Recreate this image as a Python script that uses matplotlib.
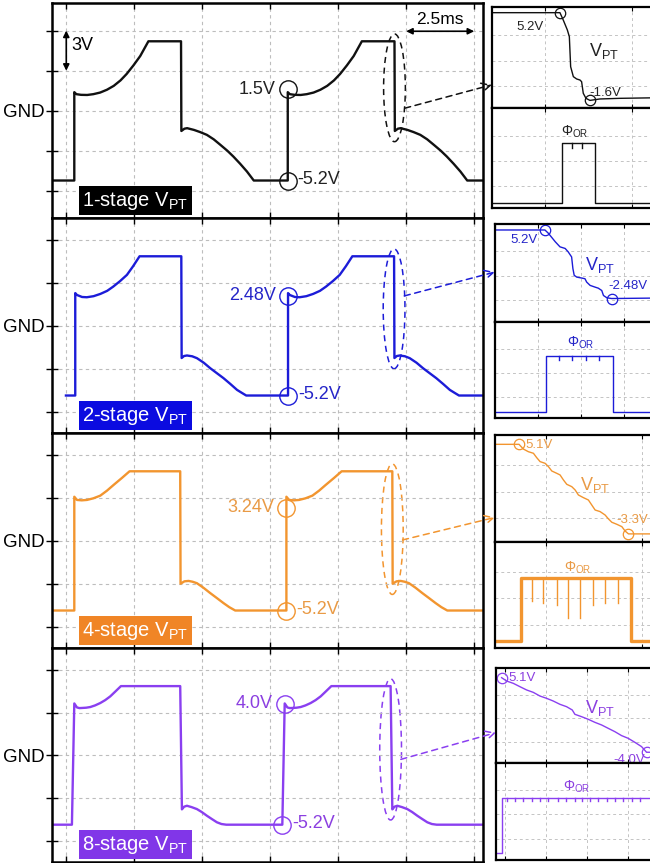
import numpy as np
import matplotlib
matplotlib.use('Agg')
import matplotlib.pyplot as plt
from matplotlib.patches import Ellipse, ConnectionPatch

plt.rcParams['font.family'] = ['Liberation Sans', 'DejaVu Sans']
plt.rcParams['mathtext.fontset'] = 'custom'
plt.rcParams['mathtext.rm'] = 'Liberation Sans'
plt.rcParams['mathtext.it'] = 'Liberation Sans:italic'
plt.rcParams['mathtext.bf'] = 'Liberation Sans:bold'

# ---------------- left column: V_PT over two cycles ----------------
# x in scope divisions (1 div = 2.5 ms), y in volts
stage_names = ['1-stage', '2-stage', '4-stage', '8-stage']
low_level = -5.2

# one cycle, time measured from the rising edge
cycle_t_1 = [0.0, 0.0, 0.03, 0.1, 0.19, 0.28, 0.38, 0.48, 0.58, 0.68, 0.77, 0.87, 0.97, 1.03, 1.09,
             1.57, 1.575, 1.62, 1.66, 1.76, 1.85, 1.95, 2.05, 2.15, 2.25, 2.34, 2.44, 2.54, 2.64]
cycle_v_1 = [-5.2, 1.4, 1.25, 1.2, 1.19, 1.25, 1.37, 1.58, 1.87, 2.28, 2.76, 3.4, 4.10, 4.65, 5.2,
             5.2, -1.5, -1.33, -1.29, -1.42, -1.58, -1.79, -2.12, -2.54, -2.97, -3.41, -3.95, -4.53, -5.2]
cycle_t_2 = [0.0, 0.0, 0.025, 0.1, 0.17, 0.27, 0.37, 0.47, 0.56, 0.66, 0.76, 0.85, 0.946,
             1.56, 1.565, 1.6, 1.643, 1.72, 1.79, 1.89, 1.986, 2.08, 2.18, 2.28, 2.38, 2.45, 2.515]
cycle_v_2 = [-5.2, 2.45, 2.31, 2.16, 2.14, 2.22, 2.39, 2.62, 2.94, 3.35, 3.81, 4.45, 5.2,
             5.2, -2.4, -2.25, -2.21, -2.27, -2.41, -2.75, -3.16, -3.52, -3.9, -4.33, -4.78, -5.0, -5.2]
cycle_t_3 = [0.0, 0.0, 0.039, 0.11, 0.186, 0.28, 0.382, 0.48, 0.578, 0.7, 0.813,
             1.558, 1.563, 1.62, 1.681, 1.74, 1.804, 1.9, 2.0, 2.1, 2.196, 2.28, 2.367]
cycle_v_3 = [-5.2, 3.3, 3.06, 3.03, 3.06, 3.18, 3.38, 3.75, 4.18, 4.7, 5.2,
             5.2, -3.2, -3.02, -2.99, -3.05, -3.16, -3.5, -3.9, -4.28, -4.65, -4.95, -5.2]
cycle_t_4 = [0.0, 0.035, 0.074, 0.11, 0.147, 0.21, 0.27, 0.34, 0.417, 0.49, 0.564, 0.64, 0.721,
             1.593, 1.618, 1.65, 1.692, 1.76, 1.839, 1.91, 1.986, 2.06, 2.133, 2.2, 2.27]
cycle_v_4 = [-5.2, 3.9, 3.6, 3.55, 3.56, 3.58, 3.63, 3.75, 3.93, 4.15, 4.43, 4.8, 5.2,
             5.2, -4.05, -3.85, -3.78, -3.88, -4.03, -4.25, -4.53, -4.78, -5.02, -5.15, -5.2]
cycle_t = [cycle_t_1, cycle_t_2, cycle_t_3, cycle_t_4]
cycle_v = [cycle_v_1, cycle_v_2, cycle_v_3, cycle_v_4]

first_rise = [0.118, 0.132, 0.118, 0.083]
period = [3.14, 3.13, 3.12, 3.095]
trace_start = [-0.21, -0.005, -0.21, -0.21]

step_labels = ['1.5V', '2.48V', '3.24V', '4.0V']
step_mark_v = [1.62, 2.24, 2.49, 3.88]
low_label = '-5.2V'

# ---------------- right column: zoom on the falling edge ----------------
zoom_t_1 = [-0.61, 0.172, 0.21, 0.257, 0.28, 0.295, 0.326, 0.364, 0.402, 0.421, 0.44, 0.471, 0.517, 0.632, 0.862, 1.35]
zoom_v_1 = [5.2, 5.2, 4.63, 3.86, 3.34, 1.01, 0.24, 0.06, -0.02, -0.15, -1.05, -1.44, -1.6, -1.49, -1.44, -1.39]
zoom_t_2 = [-1.0, 0.16, 0.24, 0.40, 0.51, 0.63, 0.70, 0.78, 0.81, 0.84, 0.90, 1.02, 1.09, 1.13, 1.21, 1.33,
            1.40, 1.48, 1.52, 1.60, 1.71, 2.9]
zoom_v_2 = [5.2, 5.2, 4.83, 3.88, 3.31, 3.13, 2.75, 2.18, 0.87, 0.12, -0.08, -0.19, -0.26, -0.64, -1.01, -1.21,
            -1.32, -1.58, -2.14, -2.4, -2.48, -2.42]
zoom_t_3 = [-0.53, -0.278, -0.233, -0.181, -0.128, -0.094, -0.059, -0.007, 0.028, 0.063, 0.115, 0.149, 0.184,
            0.219, 0.271, 0.306, 0.34, 0.392, 0.444, 0.479, 0.514, 0.566, 0.618, 0.653, 0.688, 0.74, 0.792,
            0.826, 0.861, 1.22]
zoom_v_3 = [5.1, 5.1, 4.66, 4.41, 4.26, 3.85, 3.48, 3.32, 3.01, 2.6, 2.38, 2.23, 1.76, 1.35, 1.13, 0.82, 0.35,
            0.1, -0.12, -0.59, -1.06, -1.21, -1.53, -1.9, -2.21, -2.4, -2.62, -3.03, -3.3, -3.3]
zoom_t_4 = [-1.073, -0.951, -0.789, -0.626, -0.463, -0.301, -0.138, 0.024, 0.187, 0.35, 0.512, 0.65, 0.715,
            0.878, 1.041, 1.203, 1.366, 1.528, 1.691, 1.854, 2.016, 2.179, 2.341, 2.463, 2.6]
zoom_v_4 = [5.1, 4.69, 4.41, 4.0, 3.6, 3.31, 2.86, 2.58, 2.25, 1.85, 1.56, 1.16, 0.63, 0.34, 0.02, -0.35, -0.67,
            -1.08, -1.49, -1.97, -2.3, -2.79, -3.31, -4.0, -4.0]
zoom_t = [zoom_t_1, zoom_t_2, zoom_t_3, zoom_t_4]
zoom_v = [zoom_v_1, zoom_v_2, zoom_v_3, zoom_v_4]
zoom_mark_t = [(0.172, 0.517), (0.16, 1.71), (-0.278, 0.861), (-1.073, 2.463)]
zoom_first = ['5.2V', '5.2V', '5.1V', '5.1V']
zoom_last = ['-1.6V', '-2.48V', '-3.3V', '-4.0V']

# phi_OR pulse (0 = low, 1 = high)
or_rise = [0.19, 0.19, -0.26, -1.073]
or_fall = [0.575, 1.75, 0.885, None]
glitch_t = [[0.307, 0.421],
            [0.49, 0.80, 1.11, 1.42],
            [-0.146, -0.025, 0.115, 0.235, 0.357, 0.496, 0.618, 0.756],
            [-0.95, -0.75, -0.55, -0.34, -0.14, 0.06, 0.31, 0.51, 0.71, 0.88, 1.08, 1.28, 1.49, 1.69, 1.89,
             2.1, 2.3]]
glitch_depth = [[0.08, 0.08],
                [0.07, 0.07, 0.07, 0.07],
                [0.37, 0.40, 0.43, 0.64, 0.64, 0.43, 0.40, 0.40],
                [0.06] * 17]

# ---------------- styling ----------------
trace_col = ['#111111', '#1c1cd8', '#f2952f', '#8a3ff0']
box_col = ['#000000', '#0b0be0', '#f08526', '#8136e8']
note_col = ['#222222', '#2525c8', '#e99a45', '#8b3fe0']
grid_step = [3.0, 3.2, 3.2, 3.2]

W, H = 650, 863
fig = plt.figure(figsize=(W / 100, H / 100), dpi=100)


def px_axes(x0, y0, x1, y1):
    return fig.add_axes([x0 / W, 1 - y1 / H, (x1 - x0) / W, (y1 - y0) / H])


left_top = [3, 218, 433, 648]
left_bot = [218, 433, 648, 862]

r_box = [(492, 7, 108, 208), (495, 224, 322, 418), (495, 435, 542, 648), (496, 668, 763, 860)]
r_xlim = [(-0.609, 1.345), (-1.0, 2.88), (-0.528, 1.21), (-1.21, 2.84)]
r_vlim = [(-2.19, 5.64), (-5.11, 5.87), (-4.06, 5.975), (-5.31, 6.28)]
r_olim = [(-0.083, 1.58), (-0.107, 1.61), (-0.117, 1.58), (-0.12, 1.62)]
r_text_first = [(-0.17, 4.11), (-0.33, 4.08), (-0.07, 5.04), (-0.57, 5.05)]
r_text_vpt = [(0.68, 2.25), (1.44, 1.28), (0.514, 1.29), (1.33, 1.36)]
r_text_last = [(0.69, -1.0), (2.09, -1.08), (0.9, -1.99), (2.03, -4.94)]
r_text_phi = [(0.345, 1.18), (0.98, 1.23), (0.33, 1.165), (0.76, 1.19)]
arrow_start_v = [0.2, 2.24, 0.07, -0.3]
arrow_tip_frac = [0.23, 0.51, 0.23, 0.32]
grid_ls = (0, (3, 3))

for i in range(4):
    col = trace_col[i]

    # ---------- right panel ----------
    x0, y0, ydiv, y1 = r_box[i]
    rtop = px_axes(x0, y0, 662, ydiv)
    rbot = px_axes(x0, ydiv, 662, y1)
    for rax, ylim in ((rtop, r_vlim[i]), (rbot, r_olim[i])):
        rax.set_xlim(*r_xlim[i])
        rax.set_ylim(*ylim)
        rax.set_xticks(np.arange(np.ceil(r_xlim[i][0]), r_xlim[i][1]))
        rax.set_yticks([])
        rax.grid(True, axis='x', color='#c4c4c4', lw=0.7, ls=grid_ls)
        rax.tick_params(axis='x', direction='in', length=3, labelbottom=False, top=True)
        for f in (0.22, 0.47, 0.72):
            rax.plot([0, 1], [f, f], transform=rax.transAxes, color='#c4c4c4', lw=0.7, ls=grid_ls)
        for s in rax.spines.values():
            s.set_linewidth(1.6)

    rtop.plot(zoom_t[i], zoom_v[i], color=col, lw=1.0)
    mt = zoom_mark_t[i]
    rtop.plot(mt, np.interp(mt, zoom_t[i], zoom_v[i]), 'o', mfc='none', mec=col, ms=7.5, mew=0.9)
    tc = note_col[i]
    rtop.text(*r_text_first[i], zoom_first[i], color=tc, fontsize=9.5, ha='center', va='center')
    rtop.text(*r_text_last[i], zoom_last[i], color=tc, fontsize=9.5, ha='center', va='center')
    rtop.text(*r_text_vpt[i], 'V$_{\\rm PT}$', color=tc, fontsize=13, ha='center', va='center')

    fall = or_fall[i] if or_fall[i] is not None else r_xlim[i][1] + 1
    pt = [r_xlim[i][0], or_rise[i], or_rise[i], fall, fall, r_xlim[i][1] + 1]
    pv = [0, 0, 1, 1, 0, 0]
    rbot.plot(pt, pv, color=col, lw=2.4 if i == 2 else 1.0)
    for gt, gd in zip(glitch_t[i], glitch_depth[i]):
        rbot.plot([gt, gt], [1, 1 - gd], color=col, lw=1.0)
    rbot.text(*r_text_phi[i], '$\\Phi_{\\rm OR}$', color=tc, fontsize=10, ha='center', va='center')

    # ---------- left panel ----------
    ax = px_axes(52, left_top[i], 483, left_bot[i])
    ax.set_xlim(-0.21, 6.13)
    ax.set_ylim(-8.0, 8.06)
    st = grid_step[i]
    ax.set_yticks([-2 * st, -st, 0, st, 2 * st], ['', '', 'GND', '', ''])
    ax.set_xticks(range(7), [])
    ax.grid(True, color='#bdbdbd', lw=0.8, ls=grid_ls)
    ax.tick_params(axis='y', direction='inout', length=9, width=1, labelsize=13.5, pad=1)
    ax.tick_params(axis='x', direction='in', length=4, width=1, top=True)
    for s in ax.spines.values():
        s.set_linewidth(1.8)

    t = [trace_start[i]]
    v = [low_level]
    for k in range(2):
        t0 = first_rise[i] + k * period[i]
        t += [t0 + r for r in cycle_t[i]]
        v += cycle_v[i]
    t.append(6.3)
    v.append(low_level)
    ax.plot(t, v, color=col, lw=1.7)

    # markers on the second rising edge
    t2 = first_rise[i] + period[i]
    ax.plot([t2 + cycle_t[i][0]], [low_level], 'o', mfc='none', mec=col, ms=12.5, mew=1.0)
    ax.plot([t2 + cycle_t[i][1]], [step_mark_v[i]], 'o', mfc='none', mec=col, ms=12.5, mew=1.0)
    ax.annotate(step_labels[i], (t2 + cycle_t[i][1], step_mark_v[i]), xytext=(-9, 0),
                textcoords='offset points', ha='right', va='center', fontsize=13, color=note_col[i])
    ax.annotate(low_label, (t2, low_level), xytext=(7, 1), textcoords='offset points',
                ha='left', va='center', fontsize=13, color=note_col[i])

    # dashed ellipse on the second falling edge + arrow to the zoom
    cv = np.array(cycle_v[i])
    k_fall = int(np.argmin(np.diff(cv)))
    xf = t2 + cycle_t[i][k_fall]
    ylo, yhi = cv[k_fall + 1] - 0.8, 5.75
    ax.add_patch(Ellipse((xf, (ylo + yhi) / 2), 0.32, yhi - ylo, fill=False, ec=col, lw=1.1, ls=(0, (4, 3))))
    con = ConnectionPatch(xyA=(xf + 0.15, arrow_start_v[i]), coordsA='data', axesA=ax,
                          xyB=(0, arrow_tip_frac[i]), coordsB='axes fraction', axesB=rtop,
                          arrowstyle='->', color=col, lw=1.1, ls=(0, (4, 3)), mutation_scale=16,
                          shrinkA=0, shrinkB=0)
    fig.add_artist(con)

    # stage label box
    ax.text(0.07, 0.03, stage_names[i] + ' V$_{\\rm PT}$', transform=ax.transAxes, color='white',
            fontsize=14.5, ha='left', va='bottom',
            bbox=dict(boxstyle='square,pad=0.18', fc=box_col[i], ec='none'))

    if i == 0:
        ax.annotate('', xy=(0, 6), xytext=(0, 3),
                    arrowprops=dict(arrowstyle='<|-|>', color='k', lw=1.2, mutation_scale=9,
                                    shrinkA=0, shrinkB=0))
        ax.text(0.08, 4.9, '3V', fontsize=13, ha='left', va='center')
        ax.annotate('', xy=(5, 5.95), xytext=(6, 5.95),
                    arrowprops=dict(arrowstyle='<|-|>', color='k', lw=1.2, mutation_scale=9,
                                    shrinkA=0, shrinkB=0))
        ax.text(5.5, 6.85, '2.5ms', fontsize=12.5, ha='center', va='center')

fig.savefig('out.png', dpi=100)
